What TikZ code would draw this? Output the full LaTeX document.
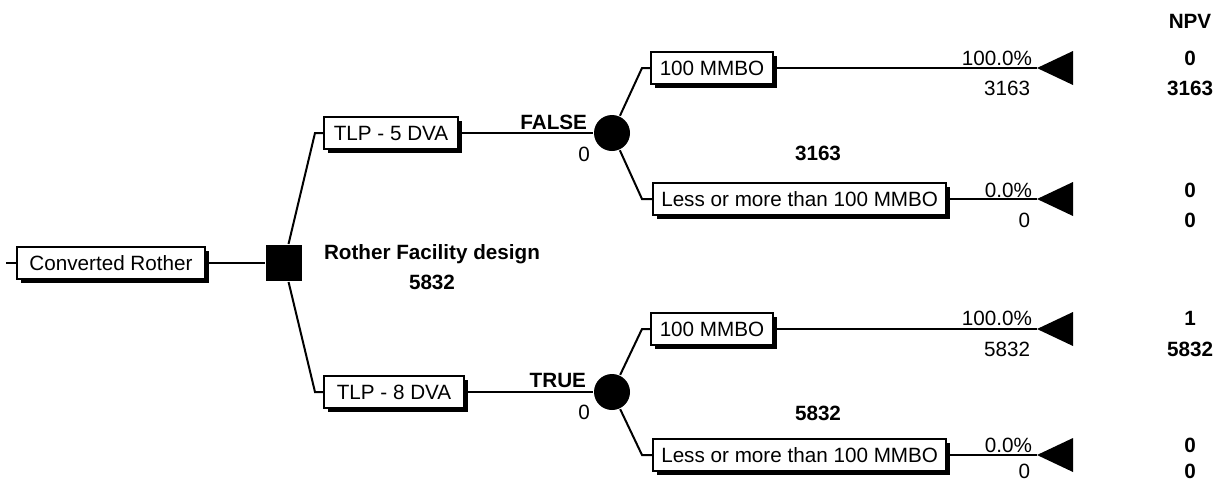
\documentclass[tikz,border=0pt]{standalone}
\usepackage{fontspec}
\setmainfont{Liberation Sans}
\usetikzlibrary{shadows}
\begin{document}
\begin{tikzpicture}[x=0.75pt,y=-0.75pt,line width=1.5pt,
  tbox/.style={draw,fill=white,line width=1.5pt,minimum height=24pt,inner xsep=2pt,inner ysep=0pt,anchor=west,
    font=\fontsize{15.5}{18}\selectfont,
    drop shadow={shadow xshift=3pt,shadow yshift=-3pt,opacity=1,fill=black}},
  lab/.style={font=\fontsize{15.5}{18}\selectfont,inner sep=0pt,anchor=base},
  blab/.style={lab,font=\fontsize{15.5}{18}\selectfont\bfseries},
  rlab/.style={lab,anchor=base east},
  brlab/.style={blab,anchor=base east},
  decnode/.style={fill,minimum size=27pt,inner sep=0pt},
  chance/.style={circle,fill,minimum size=27pt,inner sep=0pt}]
\useasboundingbox (0,0) rectangle (1220,482);

% nodes
\node[tbox,minimum width=141pt] (cr) at (16,263) {Converted Rother};
\node[decnode] (dec) at (284,263) {};
\node[tbox,minimum width=100.5pt] (tlp5) at (323,133) {TLP - 5 DVA};
\node[tbox,minimum width=105pt] (tlp8) at (323,392) {TLP - 8 DVA};
\node[chance] (c1) at (612,133) {};
\node[chance] (c2) at (612,392) {};
\node[tbox,minimum width=91.5pt] (m1) at (650,68) {100 MMBO};
\node[tbox,minimum width=220pt] (l1) at (652,199) {Less or more than 100 MMBO};
\node[tbox,minimum width=91.5pt] (m2) at (650,329) {100 MMBO};
\node[tbox,minimum width=220pt] (l2) at (652,455) {Less or more than 100 MMBO};

% terminal nodes
\coordinate (t1) at (1037,68);
\coordinate (t2) at (1037,199);
\coordinate (t3) at (1037,329);
\coordinate (t4) at (1037,455);
\foreach \t in {t1,t2,t3,t4}{\fill (\t) -- ++(36,-17) -- ++(0,34) -- cycle;}

% bend points
\coordinate (root) at (6,263);
\coordinate (k5) at (315,133);
\coordinate (k8) at (315,392);
\coordinate (km1) at (642,68);
\coordinate (kl1) at (642,199);
\coordinate (km2) at (642,329);
\coordinate (kl2) at (642,455);

% connectors
\draw (root) -- (cr.west);
\draw (cr.east) -- (dec);
\draw (dec) -- (k5) -- (tlp5.west);
\draw (dec) -- (k8) -- (tlp8.west);
\draw (tlp5.east) -- (c1);
\draw (tlp8.east) -- (c2);
\draw (c1) -- (km1) -- (m1.west);
\draw (c1) -- (kl1) -- (l1.west);
\draw (c2) -- (km2) -- (m2.west);
\draw (c2) -- (kl2) -- (l2.west);
\draw (m1.east) -- (t1);
\draw (l1.east) -- (t2);
\draw (m2.east) -- (t3);
\draw (l2.east) -- (t4);

% labels
\node[blab] (rfd) at (432,259) {Rother Facility design};
\node[blab] (rfv) at (432,289) {5832};
\node[brlab] (fl) at (588,129) {FALSE};
\node[lab] (fv) at (584,161) {0};
\node[brlab] (tr) at (587,387) {TRUE};
\node[lab] (tv) at (584,419) {0};
\node[blab] (v1) at (818,160) {3163};
\node[blab] (v2) at (818,420) {5832};

\node[rlab] (p1) at (1033,65) {100.0\%};
\node[rlab] (q1) at (1031,95) {3163};
\node[rlab] (p2) at (1033,197) {0.0\%};
\node[rlab] (q2) at (1031,227) {0};
\node[rlab] (p3) at (1033,325) {100.0\%};
\node[rlab] (q3) at (1031,356) {5832};
\node[rlab] (p4) at (1033,452) {0.0\%};
\node[rlab] (q4) at (1031,478) {0};

\node[blab] (npv) at (1190,28) {NPV};
\node[blab] (n1) at (1190,65) {0};
\node[blab] (n1b) at (1190,95) {3163};
\node[blab] (n2) at (1190,197) {0};
\node[blab] (n2b) at (1190,227) {0};
\node[blab] (n3) at (1190,325) {1};
\node[blab] (n3b) at (1190,356) {5832};
\node[blab] (n4) at (1190,452) {0};
\node[blab] (n4b) at (1190,478) {0};
\end{tikzpicture}
\end{document}
